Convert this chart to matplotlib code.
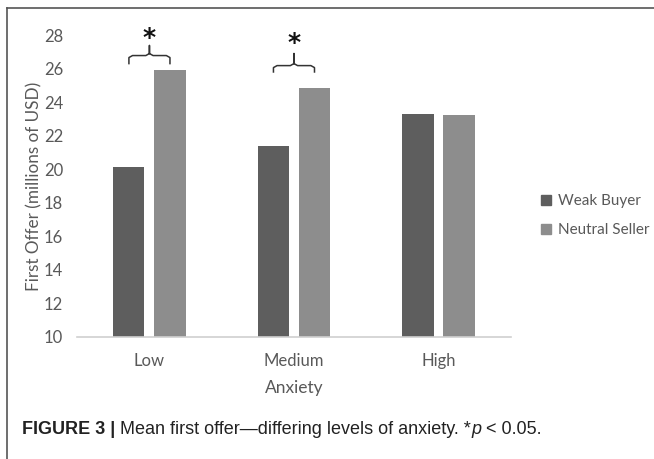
import numpy as np
import matplotlib.pyplot as plt
from matplotlib.lines import Line2D

# data
categories = ["Low", "Medium", "High"]
weak_buyer = [20.15, 21.4, 23.3]
neutral_seller = [25.9, 24.86, 23.25]
series_names = ["Weak Buyer", "Neutral Seller"]
y_ticks = [10, 12, 14, 16, 18, 20, 22, 24, 26, 28]

# significance brackets: category index, bracket end, bar level, peak, star
sig_groups = [0, 1]
bracket_end = [26.3, 25.8]
bracket_bar = [26.78, 26.18]
bracket_peak = [27.38, 26.9]
star_y = [27.85, 27.55]

plt.rcParams['font.family'] = ['Lato', 'DejaVu Sans']

fig = plt.figure(figsize=(6.54, 4.59), dpi=100)
ax = fig.add_axes([0.118, 0.2665, 0.663, 0.657])

x = np.arange(len(categories))
width = 0.215
offset = 0.142
dark = "#5e5e5e"
light = "#8d8d8d"

ax.bar(x - offset, weak_buyer, width, color=dark, label=series_names[0], zorder=2)
ax.bar(x + offset, neutral_seller, width, color=light, label=series_names[1], zorder=2)

ax.set_xlim(-0.5, 2.5)
ax.set_ylim(10, 28)
ax.set_yticks(y_ticks)
ax.set_xticks(x)
ax.set_xticklabels(categories)

for s in ["top", "right", "left"]:
    ax.spines[s].set_visible(False)
ax.spines["bottom"].set_color("#d0d0d0")
ax.spines["bottom"].set_linewidth(1.2)
ax.tick_params(axis="both", length=0, labelsize=12, labelcolor="#595959")
ax.tick_params(axis="y", pad=10)
ax.tick_params(axis="x", pad=12)

ax.set_ylabel("First Offer (millions of USD)", fontsize=12.3, color="#595959", labelpad=1)
ax.set_xlabel("Anxiety", fontsize=12.5, color="#595959", labelpad=8)

# brackets with stars
for g, e, b, p, sy in zip(sig_groups, bracket_end, bracket_bar, bracket_peak, star_y):
    x0, x1 = g - offset, g + offset
    r = 0.025
    ax.plot([x0, x0, x0 + r, g - r, g, g, g, g + r, x1 - r, x1, x1],
            [e, b - 0.12, b, b, b + 0.12, p, b + 0.12, b, b, b - 0.12, e],
            color="#333333", lw=1.1, clip_on=False, zorder=3)
    ax.text(g, sy, "*", ha="center", va="center", fontsize=18,
            fontweight="bold", color="#111111", family="DejaVu Sans")

handles = [plt.Rectangle((0, 0), 1, 1, color=dark), plt.Rectangle((0, 0), 1, 1, color=light)]
fig.legend(handles, series_names, loc="center left", bbox_to_anchor=(0.806, 0.53),
           frameon=False, fontsize=11, labelcolor="#595959",
           handlelength=0.65, handleheight=0.65, handletextpad=0.45, labelspacing=1.0)

# panel border (top and left)
fig.add_artist(Line2D([7 / 654, 1], [1 - 8 / 459, 1 - 8 / 459], color="#555555", lw=1.2))
fig.add_artist(Line2D([7 / 654, 7 / 654], [0, 1 - 8 / 459], color="#555555", lw=1.2))

# caption with mixed styles
cap_font = ['Liberation Sans', 'DejaVu Sans']
cap_size = 13.0
t1 = fig.text(22 / 654, 1 - 430 / 459, "FIGURE 3 | ", fontsize=cap_size, fontweight="bold",
              family=cap_font, color="#222222", va="center")
t2 = ax.annotate("Mean first offer\u2014differing levels of anxiety. *", xy=(1, 0),
                 xycoords=t1, va="bottom", fontsize=cap_size, family=cap_font, color="#222222")
t3 = ax.annotate("p", xy=(1, 0), xycoords=t2, va="bottom", fontsize=cap_size,
                 family=cap_font, style="italic", color="#222222")
ax.annotate(" < 0.05.", xy=(1, 0), xycoords=t3, va="bottom", fontsize=cap_size,
            family=cap_font, color="#222222")

fig.savefig("out.png", dpi=100)
